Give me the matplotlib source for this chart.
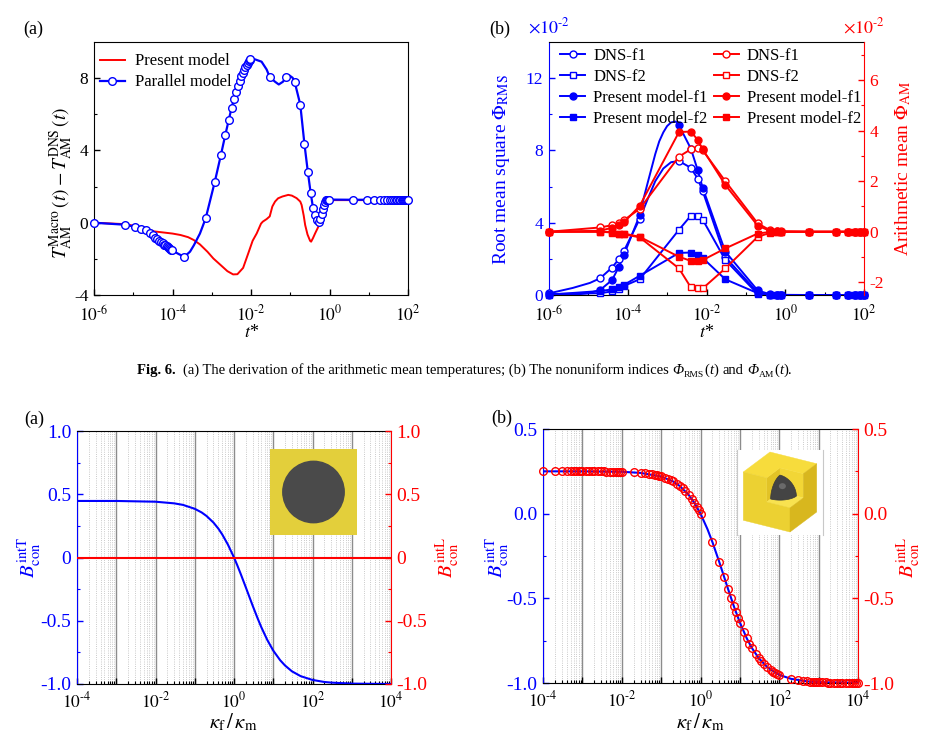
import numpy as np
import matplotlib
matplotlib.use('Agg')
import matplotlib.pyplot as plt
from matplotlib.ticker import FixedLocator, NullFormatter, LogLocator
from matplotlib.patches import Rectangle, Circle, Polygon, Ellipse
from matplotlib.lines import Line2D

plt.rcParams['font.family'] = ['Liberation Serif', 'DejaVu Serif']
plt.rcParams['mathtext.fontset'] = 'stix'
plt.rcParams['font.size'] = 12
plt.rcParams['xtick.direction'] = 'in'
plt.rcParams['ytick.direction'] = 'in'

BLUE = '#0000ff'
RED = '#ff0000'
W, H = 944, 744

################## datos: panel superior (a) ##################
# Parallel model (marcadores)
t_par = [1e-6, 6e-6, 1.1e-5, 1.6e-5, 2.1e-5, 2.6e-5, 3.1e-5, 3.6e-5, 4.1e-5, 4.6e-5,
         5.1e-5, 5.6e-5, 6.1e-5, 6.6e-5, 7.1e-5, 7.6e-5, 8.1e-5, 8.6e-5, 9.1e-5, 9.6e-5,
         2e-4, 7e-4, 1.2e-3, 1.7e-3, 2.2e-3, 2.7e-3, 3.2e-3, 3.7e-3, 4.2e-3, 4.7e-3,
         5.2e-3, 5.7e-3, 6.2e-3, 6.7e-3, 7.2e-3, 7.7e-3, 8.2e-3, 8.7e-3, 9.2e-3, 9.7e-3,
         3e-2, 8e-2, 0.13, 0.18, 0.23, 0.28, 0.33, 0.38, 0.43, 0.48,
         0.53, 0.58, 0.63, 0.68, 0.73, 0.78, 0.83, 0.88, 0.93, 0.98,
         4, 9, 14, 19, 24, 29, 34, 39, 44, 49, 54, 59, 64, 69, 74, 79, 84, 89, 94, 99]
dT_par = [0.0, -0.11, -0.22, -0.33, -0.42, -0.58, -0.70, -0.82, -0.91, -0.99,
          -1.07, -1.14, -1.21, -1.26, -1.31, -1.36, -1.41, -1.45, -1.50, -1.52,
          -1.89, 0.24, 2.28, 3.72, 4.83, 5.67, 6.36, 6.86, 7.24, 7.56,
          7.85, 8.10, 8.27, 8.45, 8.60, 8.72, 8.82, 8.93, 9.00, 9.08,
          8.06, 8.08, 7.78, 6.54, 4.35, 2.83, 1.67, 0.83, 0.43, 0.15,
          0.02, 0.20, 0.50, 0.78, 1.00, 1.15, 1.23, 1.27, 1.28, 1.28,
          1.27, 1.27, 1.27, 1.27, 1.27, 1.27, 1.27, 1.27, 1.27, 1.27,
          1.27, 1.27, 1.27, 1.27, 1.27, 1.27, 1.27, 1.27, 1.27, 1.27]
# vertices extra de la curva suave (sin marcador)
t_par_x = [1.4e-4, 2.8e-4, 3.5e-4, 5e-4, 1.26e-2, 1.86e-2, 2.5e-2, 4.1e-2, 5.1e-2,
           6.5e-2, 9.5e-2, 1.15e-1]
dT_par_x = [-1.72, -1.60, -1.25, -0.60, 9.04, 8.91, 8.48, 7.80, 7.65,
            7.80, 8.15, 8.02]
# Present model
t_pre = [1e-6, 6.3e-6, 1.6e-5, 3.4e-5, 1e-4, 1.6e-4, 2.5e-4, 3.5e-4, 5e-4, 7.8e-4,
         1.1e-3, 1.7e-3, 2.5e-3, 3.5e-3, 4.5e-3, 6.3e-3, 8.5e-3, 1.1e-2, 1.4e-2, 1.8e-2,
         2.0e-2, 2.5e-2, 3.0e-2, 3.5e-2, 4.1e-2, 4.9e-2, 6.3e-2, 8.9e-2, 0.11, 0.145,
         0.18, 0.195, 0.22, 0.24, 0.275, 0.32, 0.34, 0.38, 0.43, 0.52,
         0.68, 0.83, 1.0, 100]
dT_pre = [0.0, -0.08, -0.25, -0.48, -0.60, -0.68, -0.80, -0.96, -1.20, -1.61,
          -1.98, -2.35, -2.68, -2.86, -2.85, -2.50, -1.70, -1.00, -0.59, -0.05,
          0.06, 0.20, 0.35, 0.90, 1.17, 1.35, 1.45, 1.54, 1.50, 1.36,
          1.17, 0.98, 0.40, -0.13, -0.65, -1.00, -1.05, -0.85, -0.59, -0.22,
          0.52, 1.00, 1.25, 1.25]

################## datos: panel superior (b) (x1e-2) ##################
t_idx = [1e-6, 2e-5, 4e-5, 6e-5, 8e-5, 2e-4, 2e-3, 4e-3, 6e-3, 8e-3, 3e-2,
         0.2, 0.4, 0.6, 0.8, 4, 20, 40, 60, 80, 100]
rms_dns_f1 = [0.09, 0.93, 1.52, 2.00, 2.44, 4.20, 7.41, 7.04, 6.43, 5.75, 2.10,
              0.13, 0.02, 0.01, 0.0, 0, 0, 0, 0, 0, 0]
rms_dns_f2 = [0.05, 0.10, 0.20, 0.35, 0.50, 0.87, 3.61, 4.39, 4.39, 4.17, 1.94,
              0.05, 0.0, 0, 0, 0, 0, 0, 0, 0, 0]
rms_pm_f1 = [0.02, 0.28, 0.83, 1.57, 2.22, 4.40, 9.39, 8.10, 6.90, 5.93, 2.40,
             0.25, 0.05, 0.02, 0.01, 0, 0, 0, 0, 0, 0]
rms_pm_f2 = [0.02, 0.22, 0.31, 0.43, 0.56, 1.06, 2.33, 2.35, 2.22, 2.05, 0.87,
             0.10, 0.01, 0, 0, 0, 0, 0, 0, 0, 0]
am_dns_f1 = [0.0, 0.17, 0.26, 0.36, 0.46, 0.90, 2.97, 3.26, 3.30, 3.22, 2.00,
             0.33, 0.07, 0.03, 0.02, 0, 0, 0, 0, 0, 0]
am_dns_f2 = [0.0, 0.0, -0.03, -0.07, -0.10, -0.22, -1.45, -2.20, -2.24, -2.24, -1.45,
             -0.20, -0.05, -0.01, 0, 0, 0, 0, 0, 0, 0]
am_pm_f1 = [0.0, 0.04, 0.16, 0.26, 0.37, 1.02, 3.94, 3.96, 3.63, 3.26, 1.85,
            0.24, 0.04, 0.01, 0, 0, 0, 0, 0, 0, 0]
am_pm_f2 = [0.0, 0.0, -0.01, -0.07, -0.07, -0.20, -0.99, -1.15, -1.16, -1.12, -0.66,
            -0.07, -0.01, 0, 0, 0, 0, 0, 0, 0, 0]
# vertices extra de las curvas azules suaves
t_dns_f1_x = [4e-6, 1.1e-5, 3.2e-4, 5e-4, 8e-4, 1.26e-3]
rms_dns_f1_x = [0.39, 0.67, 5.30, 6.30, 7.00, 7.35]
t_pm_f1_x = [5e-6, 1e-5, 2.5e-4, 3.2e-4, 4e-4, 5e-4, 6.3e-4, 8e-4, 1e-3, 1.26e-3, 1.6e-3, 1.8e-3]
rms_pm_f1_x = [0.03, 0.10, 5.30, 6.20, 7.00, 7.80, 8.50, 9.00, 9.35, 9.55, 9.60, 9.55]

################## datos: paneles inferiores ##################
k_a = [1e-4, 1e-3, 1e-2, 3e-2, 5e-2, 0.1, 0.15, 0.2, 0.3, 0.4, 0.5, 0.7, 1, 1.2, 1.5,
       2, 3, 4, 5, 7, 10, 15, 20, 30, 50, 100, 200, 300, 1e3, 1e4]
BT_a = [0.447, 0.447, 0.441, 0.428, 0.416, 0.385, 0.356, 0.328, 0.276, 0.228, 0.183,
        0.102, 0.0, -0.058, -0.134, -0.236, -0.382, -0.481, -0.553, -0.650, -0.736,
        -0.812, -0.854, -0.900, -0.938, -0.968, -0.984, -0.989, -0.997, -1.0]
k_a_L = [1e-4, 1e4]
BL_a = [0.0, 0.0]

k_b = [1e-4, 1e-3, 1e-2, 0.03, 0.1, 0.2, 0.3, 0.5, 0.7, 1, 1.5, 2, 3, 4, 5, 7, 10,
       15, 20, 30, 50, 100, 200, 500, 1e3, 1e4]
BT_b = [0.25, 0.2498, 0.2475, 0.2407, 0.2195, 0.1905, 0.1628, 0.1111, 0.0638, 0.0,
        -0.0909, -0.1667, -0.2857, -0.375, -0.4444, -0.5455, -0.6429, -0.7368, -0.7917,
        -0.8529, -0.9074, -0.9519, -0.9755, -0.9901, -0.995, -0.9995]
k_b_L = [1e-4, 2e-4, 3e-4, 4e-4, 5e-4, 6e-4, 7e-4, 8e-4, 9e-4,
         1e-3, 1.25e-3, 1.5e-3, 1.75e-3, 2e-3, 2.5e-3, 3e-3, 3.5e-3, 4e-3, 5e-3, 6e-3, 7e-3, 8e-3, 9e-3,
         1e-2, 2e-2, 3e-2, 4e-2, 5e-2, 6e-2, 7e-2, 8e-2, 9e-2,
         0.1, 0.125, 0.15, 0.175, 0.2, 0.25, 0.3, 0.35, 0.4, 0.5, 0.6, 0.7, 0.8, 0.9,
         1, 2, 3, 4, 5, 6, 7, 8, 9,
         10, 12.5, 15, 17.5, 20, 25, 30, 35, 40, 50, 60, 70, 80, 90,
         100, 200, 300, 400, 500, 600, 700, 800, 900,
         1e3, 1.25e3, 1.5e3, 1.75e3, 2e3, 2.5e3, 3e3, 3.5e3, 4e3, 5e3, 6e3, 7e3, 8e3, 9e3, 1e4]
BL_b = [0.25, 0.25, 0.25, 0.25, 0.25, 0.25, 0.25, 0.25, 0.25,
        0.2497, 0.2497, 0.2496, 0.2496, 0.2495, 0.2494, 0.2492, 0.2491, 0.249, 0.2488,
        0.2485, 0.2483, 0.248, 0.2478,
        0.2475, 0.2438, 0.2407, 0.2376, 0.2346, 0.2315, 0.2285, 0.2255, 0.2225,
        0.2195, 0.2121, 0.2048, 0.1976, 0.1905, 0.1765, 0.1628, 0.1494, 0.1364, 0.1111,
        0.0870, 0.0638, 0.0417, 0.0204,
        0.0, -0.1667, -0.2857, -0.375, -0.4444, -0.5, -0.5455, -0.5833, -0.6154,
        -0.6429, -0.697, -0.7368, -0.7674, -0.7917, -0.8276, -0.8529, -0.8718, -0.8864,
        -0.9074, -0.9219, -0.9324, -0.9405, -0.9468,
        -0.9519, -0.9755, -0.9836, -0.9876, -0.9901, -0.9917, -0.9929, -0.9938, -0.9945,
        -0.995, -0.996, -0.9967, -0.9971, -0.9975, -0.998, -0.9983, -0.9986, -0.9988,
        -0.999, -0.9992, -0.9993, -0.9994, -0.9994, -0.9995]


################## funciones auxiliares ##################

def px_axes(fig, x0, y0, x1, y1):
    # ejes ubicados en pixeles (origen arriba a la izquierda)
    return fig.add_axes([x0 / W, 1 - y1 / H, (x1 - x0) / W, (y1 - y0) / H])


def ftext(fig, x, y, s, **kw):
    kw.setdefault('ha', 'center')
    kw.setdefault('va', 'center')
    return fig.text(x / W, 1 - y / H, s, **kw)


def merged(x0, y0, x1, y1):
    x = np.concatenate([np.asarray(x0, float), np.asarray(x1, float)])
    y = np.concatenate([np.asarray(y0, float), np.asarray(y1, float)])
    o = np.argsort(x)
    return x[o], y[o]


def dec_label(e):
    # exponente con guion corto, como en el original
    if e < 0:
        return r'$10^{\text{-}%d}$' % (-e)
    return r'$10^{%d}$' % e


def log_xaxis(ax, lo, hi, every_decade=False, pad=5):
    ax.set_xscale('log')
    ax.set_xlim(10.0 ** lo, 10.0 ** hi)
    if every_decade:
        exps = list(range(lo, hi + 1))
        ax.xaxis.set_major_locator(FixedLocator([10.0 ** e for e in exps]))
        ax.xaxis.set_minor_locator(LogLocator(base=10, subs=range(2, 10), numticks=100))
        labs = [dec_label(e) if (e - lo) % 2 == 0 else '' for e in exps]
        ax.set_xticklabels(labs)
    else:
        exps = list(range(lo, hi + 1, 2))
        ax.xaxis.set_major_locator(FixedLocator([10.0 ** e for e in exps]))
        ax.xaxis.set_minor_locator(FixedLocator([10.0 ** e for e in range(lo + 1, hi, 2)]))
        ax.set_xticklabels([dec_label(e) for e in exps])
    ax.xaxis.set_minor_formatter(NullFormatter())
    ax.tick_params(axis='x', which='major', length=4, width=1, labelsize=12.5, pad=pad)
    ax.tick_params(axis='x', which='minor', length=2.5, width=0.8)


def y_ticks(ax, major, labels, minor, color, size):
    ax.yaxis.set_major_locator(FixedLocator(major))
    ax.set_yticklabels(labels)
    ax.yaxis.set_minor_locator(FixedLocator(minor))
    ax.tick_params(axis='y', which='both', colors=color, labelsize=size, pad=4)
    ax.tick_params(axis='y', which='major', length=4, width=1)
    ax.tick_params(axis='y', which='minor', length=2.5, width=0.8)


def caption(fig, x, y, pieces):
    # coloca trozos de texto uno tras otro (x, y en pixeles)
    r = fig.canvas.get_renderer()
    for s, gap, dy, kw in pieces:
        x += gap
        t = ftext(fig, x, y + dy, s, ha='left', va='baseline', **kw)
        x += t.get_window_extent(renderer=r).width


fig = plt.figure(figsize=(W / 100, H / 100), dpi=100)

################## panel superior (a) ##################
ax1 = px_axes(fig, 94, 42, 408, 295)
log_xaxis(ax1, -6, 2, pad=7)
ax1.set_ylim(-4, 10)
y_ticks(ax1, [-4, 0, 4, 8], ['-4', '0', '4', '8'], [-2, 2, 6], 'black', 12.5)
xl, yl = merged(t_par, dT_par, t_par_x, dT_par_x)
ax1.plot(xl, yl, '-', color=BLUE, lw=1.6, zorder=3)
ax1.plot(t_par, dT_par, 'o', ms=5.5, mfc='white', mec=BLUE, mew=1.0, zorder=4, clip_on=False)
ax1.plot(t_pre, dT_pre, '-', color=RED, lw=1.4, zorder=2)
h_pre = Line2D([], [], color=RED, lw=1.4)
h_par = Line2D([], [], color=BLUE, lw=1.6, marker='o', ms=5.5, mfc='white', mec=BLUE, mew=1.0)
ax1.legend([h_pre, h_par], ['Present model', 'Parallel model'], loc='upper left',
           bbox_to_anchor=(0.019, 0.955), frameon=False, fontsize=12, borderpad=0,
           borderaxespad=0, handlelength=1.5, handletextpad=0.6, labelspacing=0.3)
ftext(fig, 61, 183, r'$T_{\mathrm{AM}}^{\mathrm{Macro}}\,(t)-T_{\mathrm{AM}}^{\mathrm{DNS}}\,(t)$',
      rotation=90, fontsize=14)
ftext(fig, 252, 332, r'$t$*', fontsize=13)
ftext(fig, 33, 29, '(a)', fontsize=13)

################## panel superior (b) ##################
ax2 = px_axes(fig, 549, 42, 864, 295)
log_xaxis(ax2, -6, 2, pad=7)
ax2.set_ylim(0, 14)
y_ticks(ax2, [0, 4, 8, 12], ['0', '4', '8', '12'], [2, 6, 10], BLUE, 12.5)
ax2r = ax2.twinx()
ax2r.set_ylim(-2.5, 7.5)
y_ticks(ax2r, [-2, 0, 2, 4, 6], ['-2', '0', '2', '4', '6'], [-1, 1, 3, 5, 7], RED, 12.5)
ax2.spines['left'].set_color(BLUE)
ax2.spines['right'].set_visible(False)
ax2r.spines['right'].set_color(RED)
for s in ['left', 'top', 'bottom']:
    ax2r.spines[s].set_visible(False)

mk = dict(ms=5, mew=1.0, clip_on=False, zorder=4)
xl, yl = merged(t_idx, rms_dns_f1, t_dns_f1_x, rms_dns_f1_x)
ax2.plot(xl, yl, '-', color=BLUE, lw=1.4)
ax2.plot(t_idx, rms_dns_f1, 'o', mfc='white', mec=BLUE, **mk)
ax2.plot(t_idx, rms_dns_f2, '-', color=BLUE, lw=1.4)
ax2.plot(t_idx, rms_dns_f2, 's', mfc='white', mec=BLUE, **mk)
xl, yl = merged(t_idx, rms_pm_f1, t_pm_f1_x, rms_pm_f1_x)
ax2.plot(xl, yl, '-', color=BLUE, lw=1.4)
ax2.plot(t_idx, rms_pm_f1, 'o', mfc=BLUE, mec=BLUE, **mk)
ax2.plot(t_idx, rms_pm_f2, '-', color=BLUE, lw=1.4)
ax2.plot(t_idx, rms_pm_f2, 's', mfc=BLUE, mec=BLUE, **mk)

ax2r.plot(t_idx, am_dns_f1, '-o', color=RED, lw=1.4, mfc='white', mec=RED, **mk)
ax2r.plot(t_idx, am_dns_f2, '-s', color=RED, lw=1.4, mfc='white', mec=RED, **mk)
ax2r.plot(t_idx, am_pm_f1, '-o', color=RED, lw=1.4, mfc=RED, mec=RED, **mk)
ax2r.plot(t_idx, am_pm_f2, '-s', color=RED, lw=1.4, mfc=RED, mec=RED, **mk)

hs = []
for c in [BLUE, RED]:
    for m, fc in [('o', 'white'), ('s', 'white'), ('o', c), ('s', c)]:
        hs.append(Line2D([], [], color=c, lw=1.4, marker=m, ms=5, mfc=fc, mec=c, mew=1.0))
labs = ['DNS-f1', 'DNS-f2', 'Present model-f1', 'Present model-f2'] * 2
ax2r.legend(hs, labs, loc='upper left', ncol=2, bbox_to_anchor=(0.035, 0.975),
            frameon=False, fontsize=12, borderpad=0, borderaxespad=0, handlelength=1.5,
            handletextpad=0.5, labelspacing=0.3, columnspacing=0.35)
ftext(fig, 502, 170, r'Root mean square $\Phi_{\mathrm{RMS}}$', rotation=90, fontsize=14, color=BLUE)
ftext(fig, 903, 168, r'Arithmetic mean $\Phi_{\mathrm{AM}}$', rotation=90, fontsize=14, color=RED)
ftext(fig, 549, 27, r'$\times10^{\text{-}2}$', fontsize=13, color=BLUE)
ftext(fig, 864, 27, r'$\times10^{\text{-}2}$', fontsize=13, color=RED)
ftext(fig, 707, 332, r'$t$*', fontsize=13)
ftext(fig, 500, 29, '(b)', fontsize=13)

################## leyenda de la figura ##################
cs = 10.5
caption(fig, 137, 374, [
    ('Fig. 6.', 0, 0, dict(fontsize=cs, fontweight='bold')),
    ('(a) The derivation of the arithmetic mean temperatures; (b) The nonuniform indices',
     7, 0, dict(fontsize=cs)),
    ('\u03a6', 4, 0, dict(fontsize=cs, fontstyle='italic')),
    ('RMS', 0, 2.5, dict(fontsize=cs * 0.65)),
    ('(', 0.5, 0, dict(fontsize=cs)),
    ('t', 0, 0, dict(fontsize=cs, fontstyle='italic')),
    (')', 0.5, 0, dict(fontsize=cs)),
    ('and', 4, 0, dict(fontsize=cs)),
    ('\u03a6', 4, 0, dict(fontsize=cs, fontstyle='italic')),
    ('AM', 0, 2.5, dict(fontsize=cs * 0.65)),
    ('(', 0.5, 0, dict(fontsize=cs)),
    ('t', 0, 0, dict(fontsize=cs, fontstyle='italic')),
    (').', 0.5, 0, dict(fontsize=cs)),
])


def bottom_panel(ax, ylim, major, labels, minor):
    log_xaxis(ax, -4, 4, every_decade=True)
    ax.set_ylim(*ylim)
    ax.grid(which='major', axis='x', color='#8c8c8c', lw=1.0)
    ax.grid(which='minor', axis='x', color='#b8b8b8', lw=0.6, ls=':')
    y_ticks(ax, major, labels, minor, BLUE, 14)
    axr = ax.twinx()
    axr.set_ylim(*ylim)
    y_ticks(axr, major, labels, minor, RED, 14)
    ax.spines['left'].set_color(BLUE)
    ax.spines['right'].set_visible(False)
    axr.spines['right'].set_color(RED)
    for s in ['left', 'top', 'bottom']:
        axr.spines[s].set_visible(False)
    return axr


################## panel inferior (a) ##################
ax3 = px_axes(fig, 77, 431, 391, 684)
ax3r = bottom_panel(ax3, (-1, 1), [-1, -0.5, 0, 0.5, 1], ['-1.0', '-0.5', '0', '0.5', '1.0'],
                    [-0.75, -0.25, 0.25, 0.75])
ax3.plot(k_a, BT_a, '-', color=BLUE, lw=1.5, zorder=3)
ax3r.plot(k_a_L, BL_a, '-', color=RED, lw=1.5)
ftext(fig, 29, 557, r'$B_{\mathrm{con}}^{\mathrm{intT}}$', rotation=90, fontsize=15, color=BLUE)
ftext(fig, 447, 557, r'$B_{\mathrm{con}}^{\mathrm{intL}}$', rotation=90, fontsize=15, color=RED)
ftext(fig, 233, 722, r'$\kappa_{\mathrm{f}}\,/\,\kappa_{\mathrm{m}}$', fontsize=15)
ftext(fig, 34, 419, '(a)', fontsize=13)

ins = px_axes(fig, 270, 449, 357, 535)
ins.set_xlim(270, 357)
ins.set_ylim(535, 449)
ins.axis('off')
ins.add_patch(Rectangle((270, 449), 87, 86, color='#e3cf3b'))
ins.add_patch(Circle((313.5, 492), 30.7, color='#4a4a4a'))

################## panel inferior (b) ##################
ax4 = px_axes(fig, 543, 429, 858, 683)
ax4r = bottom_panel(ax4, (-1, 0.5), [-1, -0.5, 0, 0.5], ['-1.0', '-0.5', '0.0', '0.5'],
                    [-0.75, -0.25, 0.25])
ax4.plot(k_b, BT_b, '-', color=BLUE, lw=1.5, zorder=3)
ax4r.plot(k_b_L, BL_b, 'o', ms=5.5, mfc='none', mec=RED, mew=1.0, clip_on=False)
ftext(fig, 497, 557, r'$B_{\mathrm{con}}^{\mathrm{intT}}$', rotation=90, fontsize=15, color=BLUE)
ftext(fig, 908, 557, r'$B_{\mathrm{con}}^{\mathrm{intL}}$', rotation=90, fontsize=15, color=RED)
ftext(fig, 700, 722, r'$\kappa_{\mathrm{f}}\,/\,\kappa_{\mathrm{m}}$', fontsize=15)
ftext(fig, 502, 418, '(b)', fontsize=13)

# dibujo del cubo con una esquina cortada
ins2 = px_axes(fig, 737, 450, 823, 535)
ins2.set_xlim(737, 823)
ins2.set_ylim(535, 450)
ins2.set_xticks([])
ins2.set_yticks([])
for s in ['top', 'bottom']:
    ins2.spines[s].set_visible(False)
for s in ['left', 'right']:
    ins2.spines[s].set_color('#c8c8c8')
    ins2.spines[s].set_linewidth(0.8)

F = np.array([790.0, 483.7])
E1 = np.array([-46.7, -11.7])
E2 = np.array([26.7, -20.0])
E3 = np.array([0.0, 48.3])
sc, rs = 0.5, 0.35


def cp(a, b, c):
    return F + a * E1 + b * E2 + c * E3


def face(pts, col):
    ins2.add_patch(Polygon([cp(*p) for p in pts], closed=True, fc=col, ec=col, lw=0.3))


face([(sc, 0, 0), (sc, sc, 0), (sc, sc, sc), (sc, 0, sc)], '#e2c326')
face([(0, sc, 0), (sc, sc, 0), (sc, sc, sc), (0, sc, sc)], '#f2d636')
face([(0, 0, sc), (sc, 0, sc), (sc, sc, sc), (0, sc, sc)], '#f8e250')
th = np.linspace(0, np.pi / 2, 30)
arc = [cp(sc - rs * np.cos(a), sc - rs * np.sin(a), sc) for a in th]
arc += [cp(sc, sc - rs * np.cos(a), sc - rs * np.sin(a)) for a in th]
arc += [cp(sc - rs * np.sin(a), sc, sc - rs * np.cos(a)) for a in th]
ins2.add_patch(Polygon(arc, closed=True, fc='#444444', ec='#3a3a3a', lw=0.5))
ins2.add_patch(Ellipse(tuple(cp(sc - 0.12, sc - 0.12, sc - 0.2)), 7, 6, fc='#6a6a6a', ec='none'))
face([(sc, 0, 0), (1, 0, 0), (1, 1, 0), (0, 1, 0), (0, sc, 0), (sc, sc, 0)], '#f7dc3c')
face([(sc, 0, 0), (1, 0, 0), (1, 0, 1), (0, 0, 1), (0, 0, sc), (sc, 0, sc)], '#ecd132')
face([(0, sc, 0), (0, 1, 0), (0, 1, 1), (0, 0, 1), (0, 0, sc), (0, sc, sc)], '#d8b71e')

fig.savefig('out.png', dpi=100)
